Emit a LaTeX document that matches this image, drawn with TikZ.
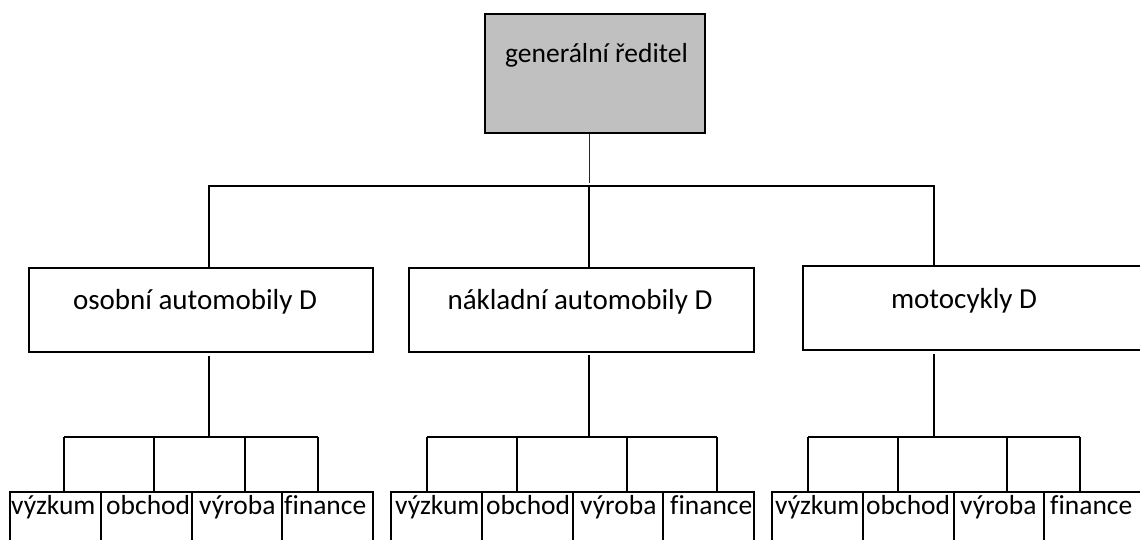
\documentclass[tikz,border=0pt]{standalone}
\usepackage{fontspec}
\setmainfont[Ligatures=NoCommon]{Carlito}
\definecolor{headgray}{RGB}{192,192,192}
\begin{document}
\begin{tikzpicture}[x=1pt,y=-1pt,
  box/.style={draw=black, line width=1.5pt, rectangle, inner sep=0pt, anchor=north west},
  lbl/.style={inner sep=0pt, font=\fontsize{27.5}{30}\selectfont},
  biglbl/.style={lbl, font=\fontsize{29}{32}\selectfont},
  wire/.style={line width=1.6pt},
  thinwire/.style={line width=0.9pt, draw=black!85},
  ]
\useasboundingbox (0,0) rectangle (1140,539);
\clip (0,0) rectangle (1140,539);

% general director
\node[box, fill=headgray, minimum width=220pt, minimum height=119pt] (gen) at (484,13) {};
\node[lbl, anchor=base west] (genT) at (505,62) {generální ředitel};

% divisions
\node[box, minimum width=344pt, minimum height=84pt] (osa) at (28,267) {};
\node[box, minimum width=345pt, minimum height=84pt] (nak) at (408,267) {};
\node[box, minimum width=350pt, minimum height=84pt] (moto) at (802,265) {};
\node[biglbl, anchor=base] (osaT) at (195,309) {osobní automobily D};
\node[biglbl, anchor=base] (nakT) at (580,309) {nákladní automobily D};
\node[biglbl, anchor=base] (motoT) at (964,308) {motocykly D};

% junction points of the upper level
\coordinate (hub) at (589,186);
\coordinate (hubT) at (589,183);
\coordinate (osaIn) at (209,267);
\coordinate (nakIn) at (589,267);
\coordinate (motoIn) at (934,265);

\draw[thinwire] (hub |- gen.south) -- (hubT);
\draw[wire] (osaIn) |- (hub) -| (motoIn);
\draw[wire] (hub) -- (nakIn);

% junction points below each division
\coordinate (osaOut) at (209,356);
\coordinate (nakOut) at (589,355);
\coordinate (motoOut) at (934,354);
\coordinate (osaBus) at (209,437);
\coordinate (nakBus) at (589,437);
\coordinate (motoBus) at (934,437);
\draw[wire] (osaOut) -- (osaBus);
\draw[wire] (nakOut) -- (nakBus);
\draw[wire] (motoOut) -- (motoBus);

% departments
\foreach \id/\g/\l/\w/\tx/\bx/\txt in {
  a1/osa/9/91/11/64/výzkum, a2/osa/100/91/106/154/obchod,
  a3/osa/191/90/199/245/výroba, a4/osa/281/91/284/318/finance,
  b1/nak/390/91/395/427/výzkum, b2/nak/481/91/486/517/obchod,
  b3/nak/572/90/580/627/výroba, b4/nak/662/91/670/717/finance,
  c1/moto/771/91/775/808/výzkum, c2/moto/862/91/866/898/obchod,
  c3/moto/953/90/960/1007/výroba, c4/moto/1043/110/1050/1080/finance}
{
  \node[box, minimum width=\w pt, minimum height=80pt] (\id) at (\l,491) {};
  \node[lbl, anchor=base west] (\id T) at (\tx,514) {\txt};
  \coordinate (\id-in) at (\bx,491);
  \draw[wire] (\id-in) -- (\id-in |- \g Bus);
}
\draw[wire] (a1-in |- osaBus) -- (a4-in |- osaBus);
\draw[wire] (b1-in |- nakBus) -- (b4-in |- nakBus);
\draw[wire] (c1-in |- motoBus) -- (c4-in |- motoBus);
\end{tikzpicture}
\end{document}
